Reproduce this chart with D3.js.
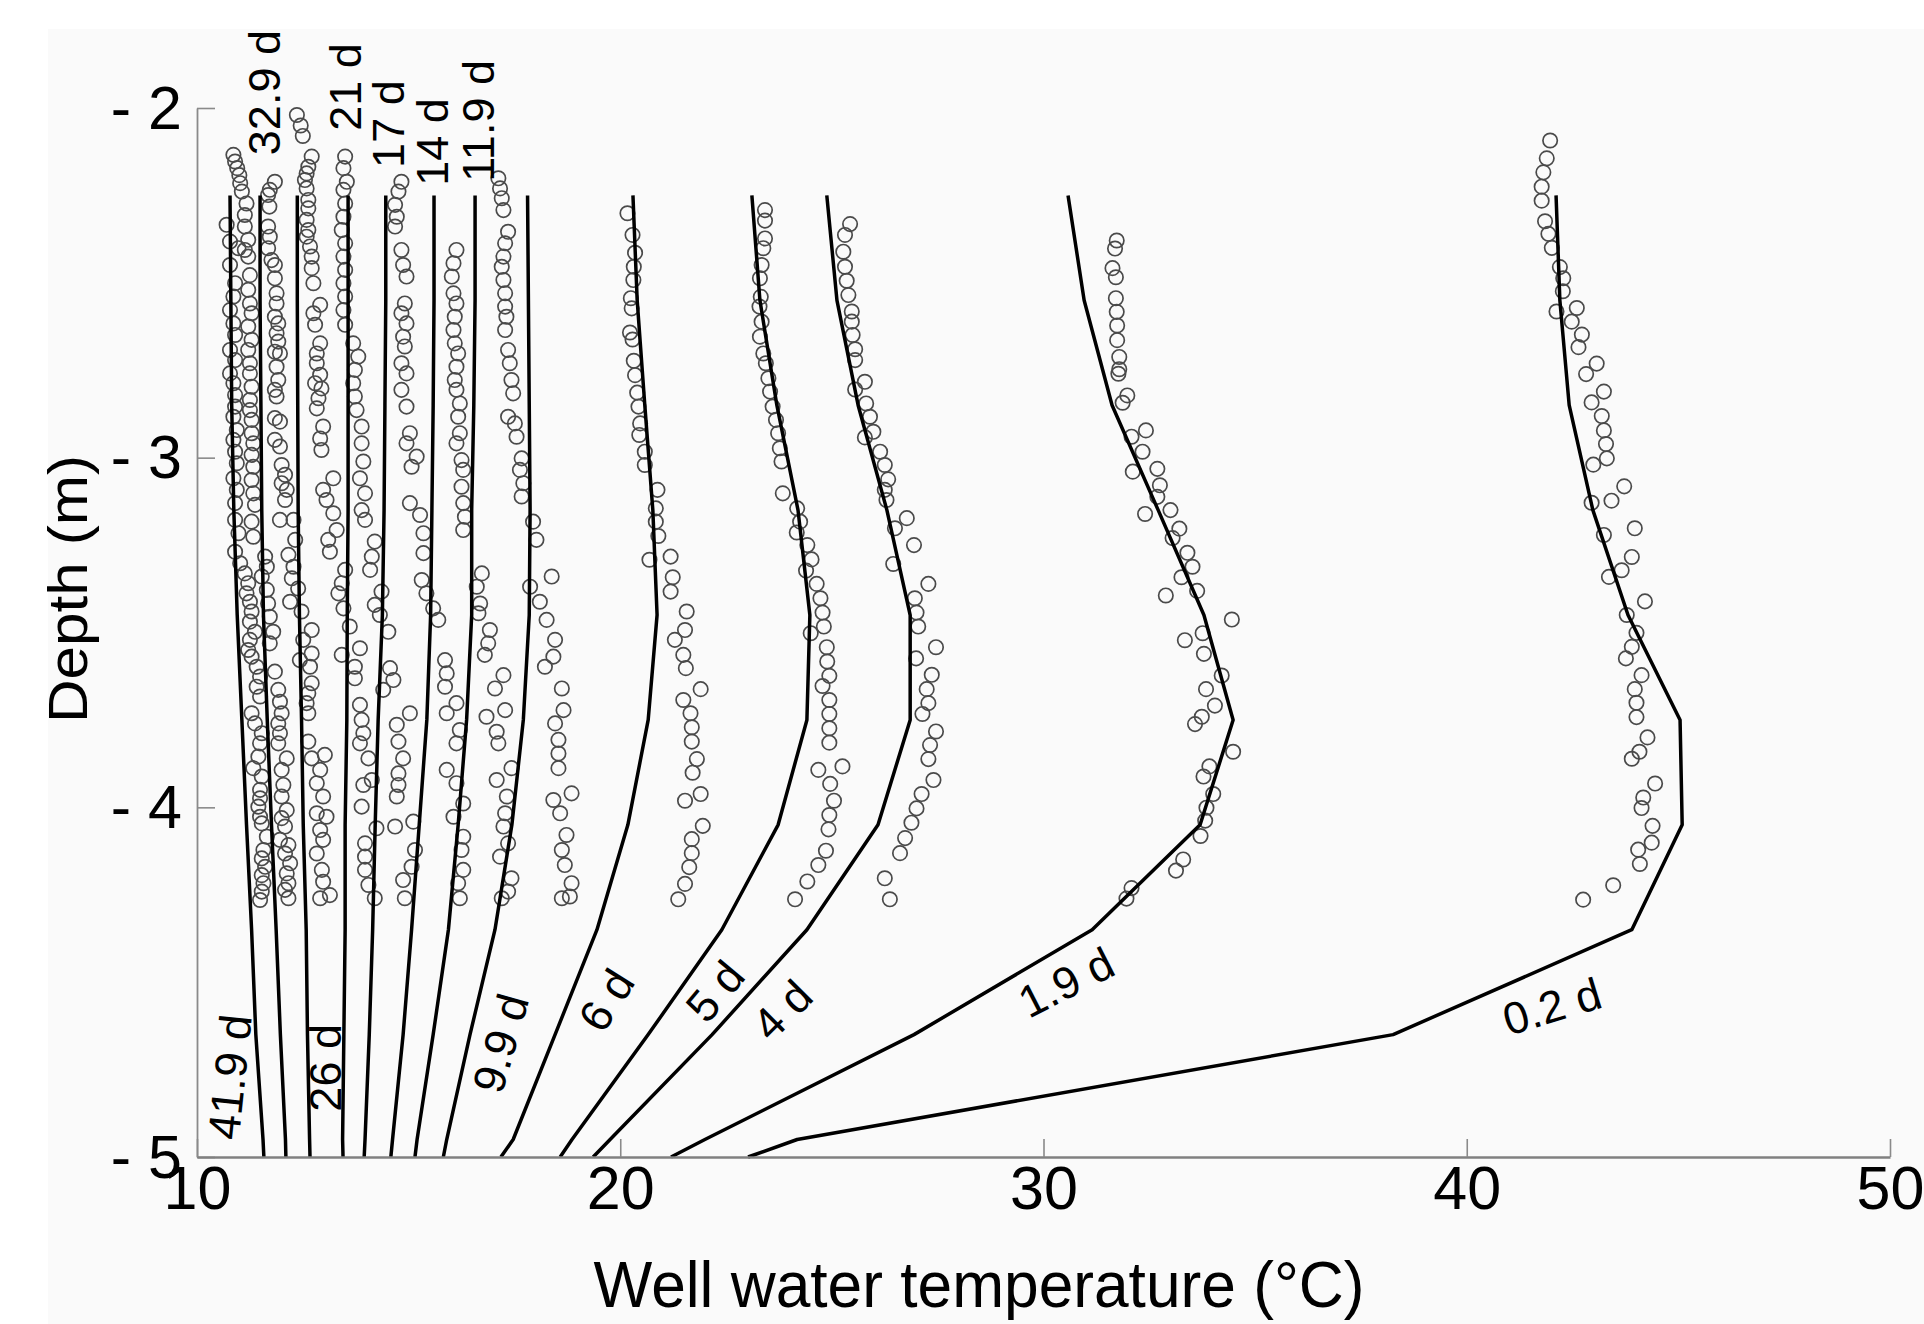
<!DOCTYPE html>
<html><head><meta charset="utf-8">
<script src="https://cdn.jsdelivr.net/npm/d3@7"></script>
<style>body{margin:0;background:#fff;}text{font-family:"Liberation Sans",Arial,Helvetica,sans-serif;}</style>
</head><body>
<svg id="chart" width="1924" height="1324"></svg>
<script>
// ---------- DATA ----------
const xTicks = [10, 20, 30, 40, 50];
const yTicks = [-2, -3, -4, -5];
const knotDepths = [-2.25, -2.55, -2.85, -3.15, -3.45, -3.75, -4.05, -4.35, -4.65, -4.95, -5.0];

// model temperature profiles (deg C at knotDepths)
const model_41_9d = [10.78, 10.80, 10.82, 10.87, 10.95, 11.06, 11.17, 11.29, 11.39, 11.56, 11.58];
const model_32_9d = [11.49, 11.49, 11.51, 11.53, 11.57, 11.66, 11.76, 11.87, 11.97, 12.09, 12.10];
const model_26d   = [12.37, 12.37, 12.38, 12.39, 12.42, 12.47, 12.51, 12.58, 12.61, 12.66, 12.67];
const model_21d   = [13.57, 13.57, 13.57, 13.57, 13.55, 13.54, 13.50, 13.50, 13.47, 13.44, 13.45];
const model_17d   = [14.46, 14.46, 14.44, 14.42, 14.38, 14.28, 14.21, 14.15, 14.07, 13.97, 13.95];
const model_14d   = [15.60, 15.60, 15.58, 15.55, 15.52, 15.43, 15.25, 15.07, 14.87, 14.62, 14.58];
const model_11_9d = [16.57, 16.57, 16.54, 16.49, 16.49, 16.37, 16.17, 15.94, 15.58, 15.20, 15.15];
const model_9_9d  = [17.81, 17.83, 17.85, 17.87, 17.85, 17.71, 17.44, 17.04, 16.45, 15.90, 15.82];
const model_6d    = [20.30, 20.40, 20.58, 20.77, 20.87, 20.66, 20.18, 19.45, 18.46, 17.47, 17.18];
const model_5d    = [23.11, 23.30, 23.70, 24.20, 24.48, 24.41, 23.73, 22.40, 20.66, 18.86, 18.58];
const model_4d    = [24.88, 25.12, 25.62, 26.30, 26.85, 26.85, 26.09, 24.41, 22.17, 19.76, 19.36];
const model_1_9d  = [30.58, 30.96, 31.62, 32.71, 33.79, 34.48, 33.70, 31.15, 26.94, 22.00, 21.20];
const model_0_2d  = [42.11, 42.20, 42.42, 42.98, 43.81, 45.04, 45.09, 43.90, 38.26, 24.18, 23.02];

// curve labels: [text, temperature, depth, angle]
const curveLabels = [
  ["32.9 d", 11.57, -1.956, -90], ["21 d", 13.50, -1.940, -90], ["17 d", 14.51, -2.046, -90],
  ["14 d", 15.55, -2.097, -90], ["11.9 d", 16.64, -2.037, -90],
  ["41.9 d", 10.76, -4.771, -84], ["26 d", 13.02, -4.745, -90], ["9.9 d", 17.16, -4.674, -74],
  ["6 d", 19.66, -4.551, -58], ["5 d", 22.23, -4.525, -50], ["4 d", 23.82, -4.579, -45],
  ["1.9 d", 30.53, -4.499, -27], ["0.2 d", 42.01, -4.568, -17]
];

// observations [temperature, depth]
const obs_41_9d = [[10.70,-2.334],[10.78,-2.382],[10.78,-2.449],[10.90,-2.501],[10.86,-2.539],[10.78,-2.578],[10.86,-2.616],[10.90,-2.649],[10.78,-2.692],[10.90,-2.721],[10.78,-2.759],[10.86,-2.787],[10.90,-2.821],[10.90,-2.854],[10.86,-2.883],[10.94,-2.921],[10.86,-2.949],[10.90,-2.983],[10.94,-3.016],[10.86,-3.059],[10.94,-3.092],[10.90,-3.130],[10.90,-3.178],[10.98,-3.216],
  [10.90,-3.269],[11.02,-3.302],[11.13,-3.331],[11.21,-3.359],[11.17,-3.388],[11.25,-3.412],[11.29,-3.440],[11.25,-3.469],[11.37,-3.498],[11.25,-3.521],[11.21,-3.550],[11.29,-3.569],[11.41,-3.598],[11.49,-3.626],[11.41,-3.655],[11.49,-3.683],[11.29,-3.731],[11.37,-3.760],[11.53,-3.788],[11.49,-3.817],[11.45,-3.855],[11.33,-3.888],[11.53,-3.912],[11.49,-3.950],[11.49,-3.974],[11.45,-3.998],[11.49,-4.027],[11.53,-4.046],[11.65,-4.084],[11.57,-4.122],[11.53,-4.146],[11.61,-4.170],[11.53,-4.194],[11.57,-4.217],[11.53,-4.241],[11.49,-4.265]];
const obs_32_9d = [[10.86,-2.134],[10.90,-2.153],[10.95,-2.172],[11.00,-2.192],[11.02,-2.215],[11.06,-2.239],[11.17,-2.273],[11.13,-2.306],[11.13,-2.339],[11.21,-2.377],[10.98,-2.401],[11.13,-2.406],[11.21,-2.425],[11.25,-2.478],[11.21,-2.520],[11.25,-2.559],[11.29,-2.587],[11.21,-2.625],[11.29,-2.663],[11.21,-2.692],[11.25,-2.730],[11.25,-2.759],[11.29,-2.797],[11.25,-2.835],[11.25,-2.864],[11.29,-2.892],[11.29,-2.930],[11.33,-2.959],[11.29,-2.992],[11.33,-3.026],[11.29,-3.064],[11.33,-3.102],[11.37,-3.135],[11.29,-3.183],[11.33,-3.226],
  [11.61,-3.283],[11.65,-3.312],[11.53,-3.340],[11.65,-3.378],[11.68,-3.417],[11.72,-3.455],[11.80,-3.498],[11.72,-3.531],[11.84,-3.612],[11.92,-3.664],[11.96,-3.698],[12.00,-3.731],[11.92,-3.760],[11.96,-3.788],[11.92,-3.817],[12.12,-3.860],[12.00,-3.893],[12.04,-3.936],[12.00,-3.969],[12.12,-4.008],[12.00,-4.031],[12.08,-4.055],[11.96,-4.093],[12.16,-4.108],[12.08,-4.132],[12.20,-4.160],[12.12,-4.189],[12.16,-4.217],[12.08,-4.236],[12.16,-4.260]];
const obs_26d = [[11.84,-2.211],[11.72,-2.234],[11.68,-2.249],[11.71,-2.282],[11.68,-2.339],[11.72,-2.368],[11.68,-2.401],[11.76,-2.435],[11.84,-2.449],[11.84,-2.487],[11.88,-2.530],[11.88,-2.559],[11.84,-2.597],[11.92,-2.616],[11.88,-2.644],[11.92,-2.668],[11.84,-2.697],[11.96,-2.702],[11.88,-2.740],[11.92,-2.778],[11.84,-2.806],[11.88,-2.825],[11.84,-2.887],[11.96,-2.897],[11.84,-2.949],[11.96,-2.968],[12.00,-3.021],[12.08,-3.049],[12.00,-3.073],[12.12,-3.092],[12.08,-3.121],[11.96,-3.178],[12.28,-3.178],[12.32,-3.235],
  [12.16,-3.278],[12.28,-3.312],[12.24,-3.345],[12.39,-3.374],[12.20,-3.412],[12.47,-3.440],[12.71,-3.493],[12.51,-3.521],[12.71,-3.560],[12.43,-3.579],[12.67,-3.598],[12.71,-3.645],[12.63,-3.674],[12.59,-3.702],[12.63,-3.731],[12.63,-3.812],[12.71,-3.860],[13.02,-3.850],[12.91,-3.893],[12.83,-3.931],[12.98,-3.969],[12.83,-4.017],[13.06,-4.027],[12.91,-4.065],[12.98,-4.093],[12.83,-4.132],[12.95,-4.179],[12.98,-4.213],[12.91,-4.260],[13.14,-4.251]];
const obs_21d = [[12.36,-2.020],[12.45,-2.050],[12.50,-2.080],[12.71,-2.139],[12.63,-2.168],[12.59,-2.187],[12.55,-2.206],[12.59,-2.230],[12.63,-2.263],[12.63,-2.287],[12.59,-2.320],[12.63,-2.349],[12.59,-2.368],[12.67,-2.396],[12.71,-2.425],[12.71,-2.458],[12.75,-2.501],[12.91,-2.563],[12.75,-2.587],[12.79,-2.620],[12.91,-2.673],[12.83,-2.702],[12.83,-2.730],[12.91,-2.763],[12.79,-2.787],[12.94,-2.802],[12.87,-2.830],[12.83,-2.859],[12.98,-2.911],[12.91,-2.945],[12.94,-2.978],[13.22,-3.059],[12.98,-3.092],[13.06,-3.121],[13.22,-3.159],[13.30,-3.207],[13.10,-3.235],
  [13.14,-3.269],[13.50,-3.321],[13.42,-3.359],[13.34,-3.388],[13.46,-3.431],[13.61,-3.483],[13.42,-3.564],[13.85,-3.545],[13.73,-3.598],[13.73,-3.631],[13.85,-3.707],[13.89,-3.750],[13.93,-3.788],[13.85,-3.817],[14.05,-3.860],[13.93,-3.936],[14.13,-3.922],[13.89,-3.998],[14.24,-4.060],[13.97,-4.103],[13.97,-4.141],[13.97,-4.179],[14.05,-4.222],[14.20,-4.260]];
const obs_17d = [[13.50,-2.139],[13.46,-2.172],[13.54,-2.211],[13.46,-2.234],[13.50,-2.273],[13.46,-2.311],[13.42,-2.349],[13.50,-2.387],[13.46,-2.425],[13.50,-2.463],[13.46,-2.501],[13.50,-2.539],[13.46,-2.578],[13.50,-2.620],[13.69,-2.673],[13.81,-2.711],[13.73,-2.749],[13.69,-2.787],[13.73,-2.825],[13.77,-2.864],[13.89,-2.911],[13.89,-2.959],[13.93,-3.011],[13.85,-3.059],[13.97,-3.102],[13.89,-3.150],[13.97,-3.178],[14.20,-3.240],
  [14.13,-3.283],[14.09,-3.321],[14.36,-3.383],[14.20,-3.421],[14.32,-3.450],[14.52,-3.498],[14.56,-3.602],[14.64,-3.636],[14.40,-3.664],[15.03,-3.731],[14.72,-3.764],[14.76,-3.812],[14.87,-3.860],[14.76,-3.903],[14.76,-3.936],[14.72,-3.969],[14.68,-4.055],[15.11,-4.041],[15.15,-4.122],[15.07,-4.170],[14.87,-4.208],[14.91,-4.260]];
const obs_14d = [[14.83,-2.211],[14.76,-2.239],[14.68,-2.277],[14.72,-2.311],[14.68,-2.339],[14.83,-2.406],[14.87,-2.449],[14.95,-2.482],[14.91,-2.559],[14.83,-2.587],[14.95,-2.616],[14.87,-2.654],[14.91,-2.682],[14.83,-2.730],[14.95,-2.759],[14.83,-2.806],[14.95,-2.854],[15.03,-2.930],[14.95,-2.959],[15.19,-2.997],[15.07,-3.026],[15.03,-3.130],[15.27,-3.164],[15.35,-3.216],
  [15.35,-3.273],[15.31,-3.350],[15.42,-3.388],[15.58,-3.431],[15.70,-3.464],[15.86,-3.579],[15.90,-3.617],[15.86,-3.655],[16.13,-3.702],[15.90,-3.731],[16.21,-3.779],[16.13,-3.817],[15.90,-3.893],[16.13,-3.931],[16.29,-3.989],[16.06,-4.027],[16.29,-4.084],[16.25,-4.122],[16.29,-4.179],[16.17,-4.217],[16.21,-4.260]];
const obs_11_9d = [[16.13,-2.406],[16.06,-2.444],[16.02,-2.482],[16.06,-2.530],[16.13,-2.559],[16.09,-2.597],[16.06,-2.635],[16.09,-2.673],[16.17,-2.702],[16.13,-2.740],[16.09,-2.778],[16.13,-2.806],[16.21,-2.845],[16.17,-2.883],[16.21,-2.930],[16.13,-2.959],[16.25,-3.007],[16.29,-3.035],[16.25,-3.083],[16.29,-3.130],[16.33,-3.169],[16.29,-3.207],
  [16.73,-3.331],[16.61,-3.369],[16.69,-3.417],[16.65,-3.445],[16.92,-3.493],[16.88,-3.531],[16.80,-3.564],[17.24,-3.622],[17.04,-3.660],[16.84,-3.741],[17.28,-3.722],[17.08,-3.784],[17.12,-3.817],[17.43,-3.888],[17.08,-3.922],[17.32,-3.969],[17.28,-4.017],[17.24,-4.055],[17.35,-4.103],[17.16,-4.141],[17.43,-4.203],[17.35,-4.241],[17.20,-4.260]];
const obs_9_9d = [[17.12,-2.201],[17.16,-2.230],[17.20,-2.258],[17.24,-2.292],[17.35,-2.354],[17.28,-2.387],[17.24,-2.425],[17.20,-2.454],[17.24,-2.492],[17.28,-2.530],[17.28,-2.568],[17.31,-2.597],[17.28,-2.635],[17.35,-2.692],[17.39,-2.730],[17.43,-2.778],[17.47,-2.816],[17.35,-2.883],[17.51,-2.902],[17.55,-2.940],[17.67,-3.002],[17.63,-3.035],[17.71,-3.073],[17.67,-3.111],[17.94,-3.183],[18.02,-3.235],
  [17.87,-3.369],[18.10,-3.412],[18.38,-3.340],[18.26,-3.464],[18.46,-3.521],[18.42,-3.569],[18.22,-3.598],[18.62,-3.660],[18.66,-3.722],[18.46,-3.760],[18.54,-3.807],[18.54,-3.846],[18.54,-3.888],[18.42,-3.979],[18.85,-3.960],[18.58,-4.017],[18.73,-4.079],[18.62,-4.122],[18.69,-4.165],[18.85,-4.217],[18.62,-4.260],[18.81,-4.255]];
const obs_6d = [[20.17,-2.301],[20.29,-2.363],[20.35,-2.414],[20.32,-2.454],[20.31,-2.492],[20.25,-2.544],[20.27,-2.573],[20.23,-2.642],[20.29,-2.662],[20.32,-2.723],[20.35,-2.764],[20.40,-2.814],[20.43,-2.854],[20.47,-2.902],[20.45,-2.935],[20.58,-2.983],[20.58,-3.021],[20.88,-3.092],[20.84,-3.145],[20.84,-3.183],[20.90,-3.224],
  [20.69,-3.292],[21.19,-3.283],[21.24,-3.342],[21.19,-3.383],[21.57,-3.440],[21.53,-3.493],[21.29,-3.521],[21.49,-3.564],[21.55,-3.602],[21.90,-3.662],[21.49,-3.693],[21.66,-3.731],[21.69,-3.771],[21.69,-3.812],[21.81,-3.862],[21.71,-3.901],[21.90,-3.962],[21.53,-3.981],[21.95,-4.053],[21.69,-4.091],[21.69,-4.131],[21.63,-4.171],[21.53,-4.219],[21.37,-4.263]];
const obs_5d = [[23.42,-2.292],[23.42,-2.322],[23.42,-2.373],[23.38,-2.401],[23.34,-2.449],[23.30,-2.487],[23.32,-2.540],[23.29,-2.568],[23.34,-2.611],[23.30,-2.654],[23.38,-2.702],[23.44,-2.730],[23.50,-2.773],[23.54,-2.811],[23.60,-2.854],[23.68,-2.892],[23.73,-2.930],[23.77,-2.973],[23.81,-3.011],[23.84,-3.102],[24.18,-3.145],[24.25,-3.183],[24.17,-3.214],[24.42,-3.250],
  [24.52,-3.291],[24.39,-3.323],[24.64,-3.361],[24.73,-3.402],[24.78,-3.443],[24.81,-3.483],[24.50,-3.502],[24.88,-3.542],[24.89,-3.583],[24.94,-3.624],[24.78,-3.653],[24.94,-3.693],[24.94,-3.733],[24.94,-3.774],[24.94,-3.815],[24.68,-3.893],[25.25,-3.883],[24.96,-3.933],[25.05,-3.981],[24.94,-4.022],[24.92,-4.063],[24.86,-4.124],[24.68,-4.165],[24.42,-4.212],[24.13,-4.263]];
const obs_4d = [[25.43,-2.332],[25.31,-2.363],[25.27,-2.411],[25.31,-2.454],[25.35,-2.494],[25.39,-2.535],[25.47,-2.582],[25.47,-2.611],[25.49,-2.649],[25.55,-2.690],[25.55,-2.721],[25.78,-2.783],[25.55,-2.805],[25.81,-2.845],[25.90,-2.883],[25.98,-2.926],[25.78,-2.942],[26.14,-2.983],[26.25,-3.021],[26.33,-3.062],[26.25,-3.092],[26.29,-3.121],[26.77,-3.173],[26.49,-3.202],[26.94,-3.250],
  [26.45,-3.304],[27.28,-3.361],[26.96,-3.402],[27.00,-3.443],[27.04,-3.483],[26.99,-3.574],[27.46,-3.542],[27.36,-3.621],[27.24,-3.662],[27.28,-3.702],[27.14,-3.733],[27.46,-3.783],[27.32,-3.822],[27.28,-3.862],[27.40,-3.922],[27.12,-3.962],[27.00,-4.003],[26.88,-4.044],[26.73,-4.088],[26.61,-4.131],[26.25,-4.203],[26.37,-4.263]];
const obs_1_9d = [[31.73,-2.379],[31.69,-2.402],[31.63,-2.458],[31.71,-2.484],[31.71,-2.544],[31.73,-2.583],[31.74,-2.622],[31.74,-2.664],[31.79,-2.712],[31.79,-2.747],[31.77,-2.760],[31.98,-2.822],[31.87,-2.843],[32.08,-2.940],[32.42,-2.922],[32.34,-2.983],[32.11,-3.040],[32.69,-3.032],[32.75,-3.079],[32.69,-3.112],[32.40,-3.161],[33.00,-3.150],[33.21,-3.203],[33.05,-3.230],[33.40,-3.272],[33.52,-3.312],[33.26,-3.342],[32.89,-3.394],[33.63,-3.381],[34.45,-3.463],[33.76,-3.502],[33.34,-3.522],[33.79,-3.561],[34.21,-3.623],[33.84,-3.662],[34.05,-3.709],[33.74,-3.741],[33.58,-3.762],[34.48,-3.841],[33.92,-3.883],[33.78,-3.912],[34.01,-3.962],[33.85,-4.001],[33.82,-4.038],[33.71,-4.082],[33.30,-4.149],[33.13,-4.181],[32.08,-4.231],[31.96,-4.261]];
const obs_0_2d = [[41.97,-2.093],[41.89,-2.144],[41.81,-2.184],[41.77,-2.225],[41.77,-2.265],[41.85,-2.324],[41.93,-2.360],[42.01,-2.400],[42.20,-2.455],[42.28,-2.487],[42.27,-2.524],[42.12,-2.582],[42.60,-2.572],[42.48,-2.611],[42.72,-2.648],[42.64,-2.684],[43.07,-2.731],[42.82,-2.761],[43.24,-2.811],[42.95,-2.842],[43.19,-2.881],[43.24,-2.922],[43.29,-2.961],[43.31,-3.002],[42.99,-3.020],[43.72,-3.082],[43.42,-3.123],[42.95,-3.129],[43.97,-3.202],[43.24,-3.221],[43.90,-3.284],[43.66,-3.322],[43.36,-3.341],[44.21,-3.411],[43.78,-3.450],[44.01,-3.501],[43.90,-3.541],[43.76,-3.574],[44.13,-3.622],[43.97,-3.662],[44.01,-3.701],[44.01,-3.742],[44.27,-3.800],[44.08,-3.841],[43.90,-3.861],[44.45,-3.932],[44.17,-3.972],[44.13,-4.002],[44.39,-4.053],[44.37,-4.101],[44.05,-4.121],[44.09,-4.162],[43.46,-4.223],[42.75,-4.264]];

// ---------- DRAW ----------
const models = [model_41_9d, model_32_9d, model_26d, model_21d, model_17d, model_14d, model_11_9d, model_9_9d, model_6d, model_5d, model_4d, model_1_9d, model_0_2d];
const observations = [obs_41_9d, obs_32_9d, obs_26d, obs_21d, obs_17d, obs_14d, obs_11_9d, obs_9_9d, obs_6d, obs_5d, obs_4d, obs_1_9d, obs_0_2d];

const svg = d3.select("#chart");
svg.append("rect").attr("x", 0).attr("y", 0).attr("width", 1924).attr("height", 1324).attr("fill", "#ffffff");
svg.append("rect").attr("x", 48).attr("y", 29).attr("width", 1876).attr("height", 1295).attr("fill", "#fafafa");

const x = d3.scaleLinear().domain([10, 50]).range([197, 1890]);
const y = d3.scaleLinear().domain([-2, -5]).range([108, 1157]);

// observations
const obsG = svg.append("g");
observations.forEach(series => {
  obsG.selectAll(null).data(series).enter().append("circle")
    .attr("cx", d => x(d[0])).attr("cy", d => y(d[1])).attr("r", 7.2)
    .attr("fill", "none").attr("stroke", "#4a4a4a").attr("stroke-width", 1.7);
});

// model lines
const line = d3.line().x(d => x(d[0])).y(d => y(d[1]));
models.forEach(m => {
  svg.append("path").datum(m.map((t, i) => [t, knotDepths[i]]))
    .attr("d", line).attr("fill", "none").attr("stroke", "#000").attr("stroke-width", 3.5)
    .attr("stroke-linejoin", "round");
});

// axes
const yAxis = d3.axisLeft(y).tickValues(yTicks).tickSize(-18).tickSizeOuter(0).tickPadding(15)
  .tickFormat(d => "- " + Math.abs(d));
const gy = svg.append("g").attr("transform", "translate(197,0)").call(yAxis);
gy.select(".domain").attr("stroke", "#8a8a8a").attr("stroke-width", 1.8);
gy.selectAll(".tick line").attr("stroke", "#8a8a8a").attr("stroke-width", 1.6);
gy.selectAll(".tick text").attr("font-size", 61).attr("fill", "#000").attr("dy", "0.33em")
  .attr("font-family", "Liberation Sans, Arial, sans-serif");

const xAxis = d3.axisBottom(x).tickValues(xTicks).tickSize(-18).tickSizeOuter(0).tickPadding(9)
  .tickFormat(d3.format("d"));
const gx = svg.append("g").attr("transform", "translate(0,1157)").call(xAxis);
gx.select(".domain").attr("stroke", "#808080").attr("stroke-width", 2.6);
gx.selectAll(".tick line").attr("stroke", "#8a8a8a").attr("stroke-width", 1.6);
gx.selectAll(".tick text").attr("font-size", 61).attr("fill", "#000")
  .attr("font-family", "Liberation Sans, Arial, sans-serif");

// curve labels
curveLabels.forEach(([t, tv, dv, ang]) => {
  svg.append("text")
    .attr("transform", `translate(${x(tv)},${y(dv)}) rotate(${ang})`)
    .attr("text-anchor", "middle").attr("dy", "0.36em")
    .attr("font-size", 45).attr("fill", "#000").text(t);
});

// axis titles
svg.append("text").attr("x", 979).attr("y", 1307).attr("text-anchor", "middle")
  .attr("font-size", 65).attr("textLength", 771).attr("lengthAdjust", "spacingAndGlyphs")
  .attr("fill", "#000").text("Well water temperature (°C)");
svg.append("text").attr("transform", "translate(87,589) rotate(-90)").attr("text-anchor", "middle")
  .attr("font-size", 56).attr("textLength", 268).attr("lengthAdjust", "spacingAndGlyphs")
  .attr("fill", "#000").text("Depth (m)");
</script>
</body></html>
